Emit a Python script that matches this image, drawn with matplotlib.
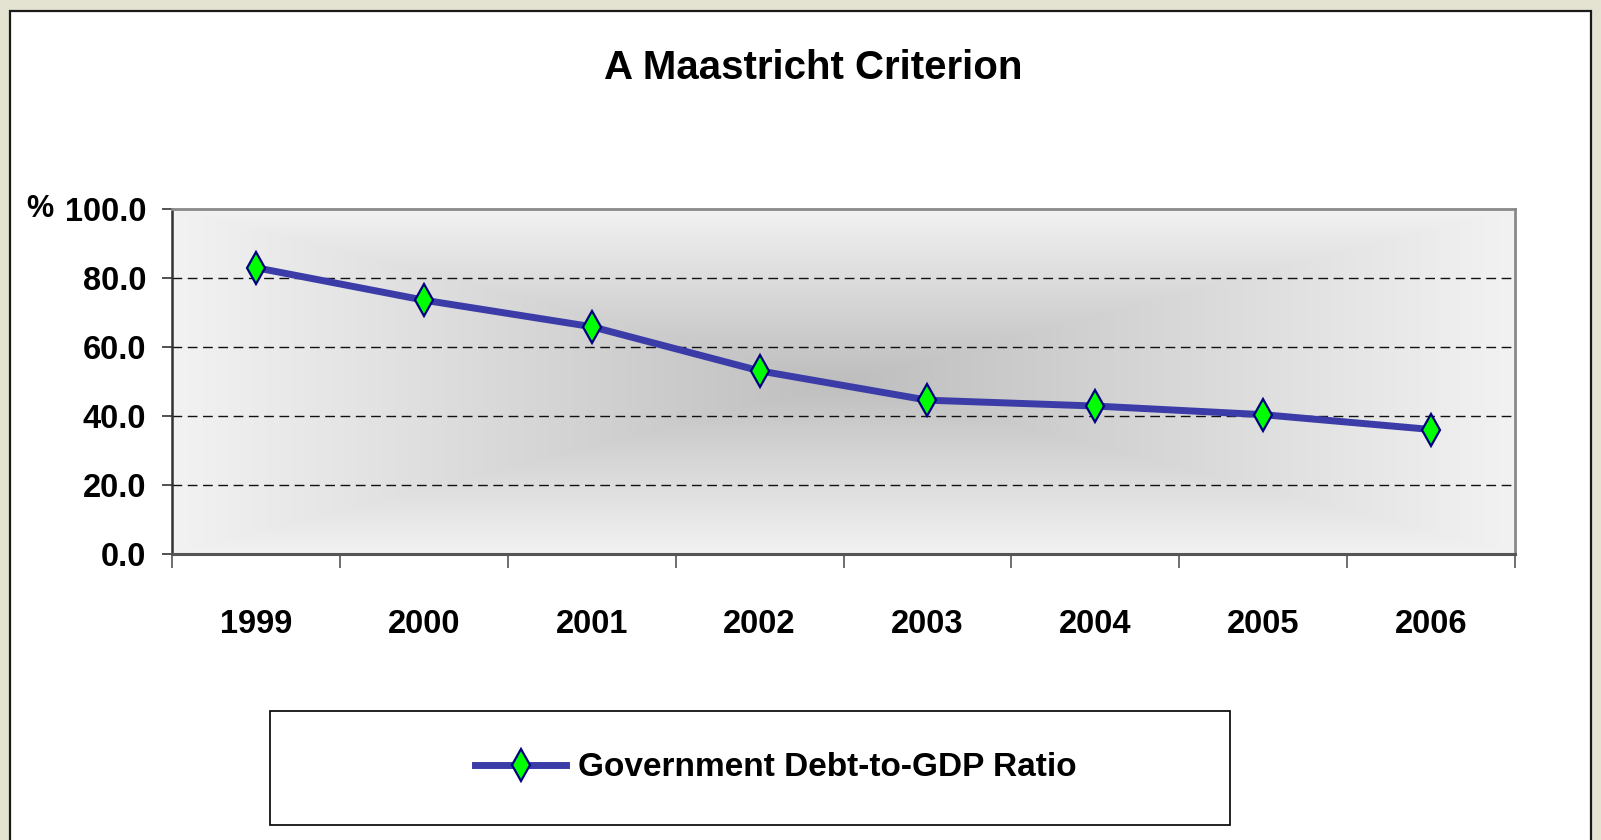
import numpy as np
import matplotlib
matplotlib.use("Agg")
import matplotlib.pyplot as plt
from matplotlib.patches import Rectangle
from matplotlib.lines import Line2D

# ---- data ----
years = ["1999", "2000", "2001", "2002", "2003", "2004", "2005", "2006"]
debt_ratio = [82.9, 73.5, 65.8, 53.0, 44.5, 42.8, 40.3, 36.0]
y_ticks = [0.0, 20.0, 40.0, 60.0, 80.0, 100.0]
title = "A Maastricht Criterion"
series_name = "Government Debt-to-GDP Ratio"

W, H = 1601, 840
plt.rcParams['font.family'] = ['Liberation Sans', 'DejaVu Sans']
plt.rcParams['font.weight'] = 'bold'

fig = plt.figure(figsize=(W / 100, H / 100), dpi=100)
fig.patch.set_facecolor('#e4e3d2')

# white chart frame
frame = Rectangle((10 / W, -0.05), (1591 - 10) / W, (H - 11) / H + 0.05,
                  transform=fig.transFigure, facecolor='white',
                  edgecolor='#1a1a1a', linewidth=1.6, zorder=-5)
fig.patches.append(frame)

# plot area
x0, x1 = 172, 1515
yt, yb = 208.7, 553.7
ax = fig.add_axes([x0 / W, 1 - yb / H, (x1 - x0) / W, (yb - yt) / H])
ax.set_zorder(2)
ax.set_facecolor('#f2f2f2')

n = len(years)
ax.set_xlim(-0.5, n - 0.5)
ax.set_ylim(0, 100)

# centre-out gradient background
gx = np.linspace(-1, 1, 600)
gy = np.linspace(-1, 1, 300)
GX, GY = np.meshgrid(gx, gy)
t = np.clip(np.maximum(np.abs(GX), np.abs(GY)), 0, 1)
dark, light = 0.745, 0.95
shade = dark + (light - dark) * t
img = np.dstack([shade, shade, shade])
ax.imshow(img, extent=(-0.5, n - 0.5, 0, 100), aspect='auto', zorder=0,
          interpolation='bilinear')

# gridlines
for v in y_ticks[1:-1]:
    ax.axhline(v, color='#111111', lw=1.0, ls=(0, (7, 4)), zorder=1)

xs = np.arange(n)
ax.plot(xs, debt_ratio, color='#3c3ca8', lw=5, zorder=3, solid_capstyle='butt')
ax.plot(xs, debt_ratio, ls='none', marker='d', ms=15.8, mfc='#00ff00',
        mec='#000080', mew=1.6, zorder=4)

# spines
for s in ['top', 'right']:
    ax.spines[s].set_color('#8a8a8a')
    ax.spines[s].set_linewidth(2.0)
ax.spines['left'].set_color('#333333')
ax.spines['left'].set_linewidth(1.8)
ax.spines['bottom'].set_color('#555555')
ax.spines['bottom'].set_linewidth(2.2)

# ticks
ax.set_yticks(y_ticks)
ax.set_yticklabels([f"{v:.1f}" for v in y_ticks])
ax.tick_params(axis='y', direction='out', length=7.5, width=1.2, color='#333333',
               pad=11, labelsize=23.5)
ax.set_xticks(np.arange(-0.5, n, 1.0))
ax.set_xticklabels([])
ax.tick_params(axis='x', which='major', direction='out', length=10, width=1.2,
               color='#555555')
ax.set_xticks(xs, minor=True)
ax.set_xticklabels(years, minor=True)
ax.tick_params(axis='x', which='minor', length=0, pad=40, labelsize=23.5)
for lab in ax.get_xticklabels(minor=True) + ax.get_yticklabels():
    lab.set_fontweight('bold')

# "%" unit label
fig.text(40 / W, 1 - 209 / H, "%", ha='center', va='center', fontsize=22,
         fontweight='bold')

# title
fig.text(813 / W, 1 - 68 / H, title, ha='center', va='center', fontsize=29,
         fontweight='bold')

# legend box
lbox = Rectangle((270 / W, 1 - 825 / H), (1230 - 270) / W, (825 - 711) / H,
                 transform=fig.transFigure, facecolor='white',
                 edgecolor='#111111', linewidth=1.3, zorder=1)
fig.patches.append(lbox)
handle = Line2D([], [], color='#3c3ca8', lw=5, marker='d', ms=15.8,
                mfc='#00ff00', mec='#000080', mew=1.6)
leg = fig.legend([handle], [series_name], loc='center left',
                 bbox_to_anchor=(475 / W, 1 - 768 / H), frameon=False,
                 borderpad=0, borderaxespad=0,
                 handlelength=2.73, handletextpad=0.35,
                 prop={'size': 24, 'weight': 'bold'})
leg.set_zorder(3)

fig.savefig("out.png", dpi=100, facecolor=fig.get_facecolor())
